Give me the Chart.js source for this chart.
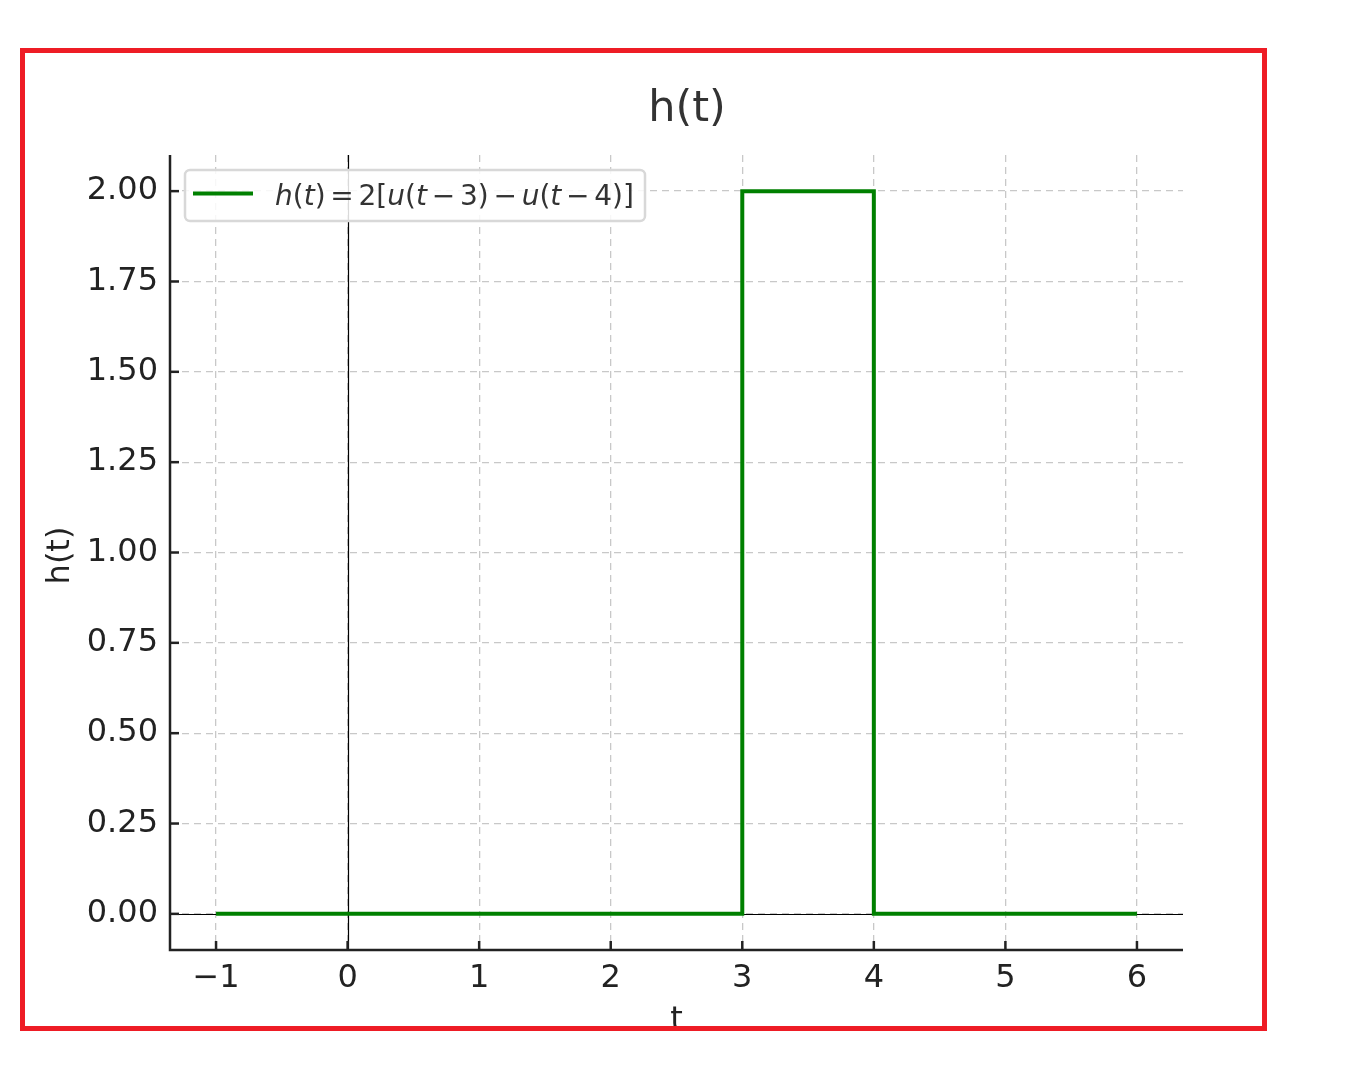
<!DOCTYPE html>
<html>
<head>
<meta charset="utf-8">
<script src="https://cdn.jsdelivr.net/npm/chart.js@4/dist/chart.umd.min.js"></script>
<style>
  html, body { margin: 0; padding: 0; background: #fff; }
  canvas { display: block; }
</style>
</head>
<body>
<canvas id="c" width="1357" height="1074"></canvas>
<script>
// ---- data ----
const tValues = [-1, 3, 3, 4, 4, 6];
const hValues = [0, 0, 2, 2, 0, 0];
const xTicks = [-1, 0, 1, 2, 3, 4, 5, 6];
const yTicks = [0, 0.25, 0.5, 0.75, 1.0, 1.25, 1.5, 1.75, 2.0];
const chartTitle = 'h(t)';
const xTitle = 't';
const yTitle = 'h(t)';
const seriesLabel = 'h(t) = 2[u(t − 3) − u(t − 4)]';
// legend label as math segments (text, italic)
const legendSegments = [
  ['h', true], ['(', false], ['t', true], [')', false], ['=', false, 'op'],
  ['2[', false], ['u', true], ['(', false], ['t', true], ['−', false, 'op'],
  ['3)', false], ['−', false, 'op'], ['u', true], ['(', false], ['t', true],
  ['−', false, 'op'], ['4)]', false]
];

const FONT = "'DejaVu Sans', 'Liberation Sans', sans-serif";
Chart.defaults.font.family = FONT;

const decor = {
  id: 'decor',
  beforeDatasetsDraw(chart) {
    const ctx = chart.ctx, a = chart.chartArea;
    const xs = chart.scales.x, ys = chart.scales.y;
    ctx.save();
    ctx.setLineDash([]);
    ctx.strokeStyle = '#000';
    ctx.lineWidth = 1.2;
    const y0 = Math.round(ys.getPixelForValue(0)) + 0.5;
    ctx.beginPath(); ctx.moveTo(a.left, y0); ctx.lineTo(a.right, y0); ctx.stroke();
    const x0 = Math.round(xs.getPixelForValue(0)) + 0.5;
    ctx.beginPath(); ctx.moveTo(x0, a.top); ctx.lineTo(x0, a.bottom); ctx.stroke();
    ctx.restore();
  },
  afterDraw(chart) {
    const ctx = chart.ctx, a = chart.chartArea;
    const xs = chart.scales.x, ys = chart.scales.y;
    ctx.save();
    ctx.setLineDash([]);
    // axis spines (solid)
    ctx.strokeStyle = '#222';
    ctx.lineWidth = 2.5;
    ctx.beginPath(); ctx.moveTo(a.left, a.top); ctx.lineTo(a.left, a.bottom); ctx.lineTo(a.right, a.bottom); ctx.stroke();
    // inward ticks
    xTicks.forEach(v => {
      const x = xs.getPixelForValue(v);
      ctx.beginPath(); ctx.moveTo(x, a.bottom); ctx.lineTo(x, a.bottom - 9); ctx.stroke();
    });
    yTicks.forEach(v => {
      const y = ys.getPixelForValue(v);
      ctx.beginPath(); ctx.moveTo(a.left, y); ctx.lineTo(a.left + 9, y); ctx.stroke();
    });
    // title
    ctx.fillStyle = '#333';
    ctx.font = '43px ' + FONT;
    ctx.textAlign = 'center';
    ctx.textBaseline = 'alphabetic';
    ctx.fillText(chartTitle, 687, 121);
    // axis titles
    ctx.fillStyle = '#222';
    ctx.font = '32px ' + FONT;
    ctx.fillText(xTitle, (a.left + a.right) / 2, 1029);
    ctx.save();
    ctx.translate(69, (a.top + a.bottom) / 2 + 3);
    ctx.rotate(-Math.PI / 2);
    ctx.textAlign = 'center';
    ctx.textBaseline = 'alphabetic';
    ctx.fillText(yTitle, 0, 0);
    ctx.restore();

    // legend
    const bx = 185, by = 170, bw = 460, bh = 51;
    ctx.fillStyle = 'rgba(255,255,255,0.85)';
    ctx.strokeStyle = '#d8d8d8';
    ctx.lineWidth = 2.5;
    ctx.beginPath();
    ctx.roundRect(bx, by, bw, bh, 5);
    ctx.fill(); ctx.stroke();
    ctx.strokeStyle = '#008000';
    ctx.lineWidth = 4;
    ctx.beginPath(); ctx.moveTo(193, 193.5); ctx.lineTo(253, 193.5); ctx.stroke();
    const targetW = 359;
    const gap = 0.17;
    function layout(size) {
      let w = 0;
      const items = [];
      legendSegments.forEach(s => {
        ctx.font = (s[1] ? 'italic ' : '') + size + 'px ' + FONT;
        const g = s[2] === 'op' ? gap * size : 0;
        w += g;
        items.push({ t: s[0], f: ctx.font, x: w });
        w += ctx.measureText(s[0]).width + g;
      });
      return { w, items };
    }
    const l0 = layout(100);
    const size = 100 * targetW / l0.w;
    const l = layout(size);
    ctx.fillStyle = '#333';
    ctx.textAlign = 'left';
    ctx.textBaseline = 'alphabetic';
    l.items.forEach(it => { ctx.font = it.f; ctx.fillText(it.t, 275 + it.x, 205); });

    // red frame
    ctx.strokeStyle = '#ee1c25';
    ctx.lineWidth = 5;
    ctx.strokeRect(22.5, 50.5, 1242, 978);
    ctx.fillStyle = '#fff';
    ctx.fillRect(0, 1033, 1357, 41);
    ctx.restore();
  }
};

new Chart(document.getElementById('c'), {
  type: 'line',
  data: {
    datasets: [{
      label: seriesLabel,
      data: tValues.map((t, i) => ({ x: t, y: hValues[i] })),
      borderColor: '#008000',
      backgroundColor: '#008000',
      borderWidth: 4,
      pointRadius: 0,
      tension: 0,
      fill: false
    }]
  },
  options: {
    responsive: false,
    animation: false,
    devicePixelRatio: 1,
    layout: { padding: { left: 0, right: 174, top: 155, bottom: 0 } },
    plugins: { legend: { display: false }, title: { display: false }, tooltip: { enabled: false } },
    scales: {
      x: {
        type: 'linear',
        min: -1.35, max: 6.35,
        afterFit: s => { s.height = 124; },
        afterBuildTicks: s => { s.ticks = xTicks.map(v => ({ value: v })); },
        grid: { color: '#c8c8c8', lineWidth: 1.3, drawTicks: false },
        border: { display: false, dash: [7, 5] },
        ticks: {
          padding: 9, color: '#222', font: { size: 32 }, maxRotation: 0, autoSkip: false,
          callback: v => String(v).replace('-', '−')
        }
      },
      y: {
        type: 'linear',
        min: -0.1, max: 2.1,
        afterFit: s => { s.width = 170; },
        afterBuildTicks: s => { s.ticks = yTicks.map(v => ({ value: v })); },
        grid: { color: '#c8c8c8', lineWidth: 1.3, drawTicks: false },
        border: { display: false, dash: [7, 5] },
        ticks: {
          padding: 12, color: '#222', font: { size: 32 }, autoSkip: false,
          callback: v => v.toFixed(2)
        }
      }
    }
  },
  plugins: [decor]
});
</script>
</body>
</html>
